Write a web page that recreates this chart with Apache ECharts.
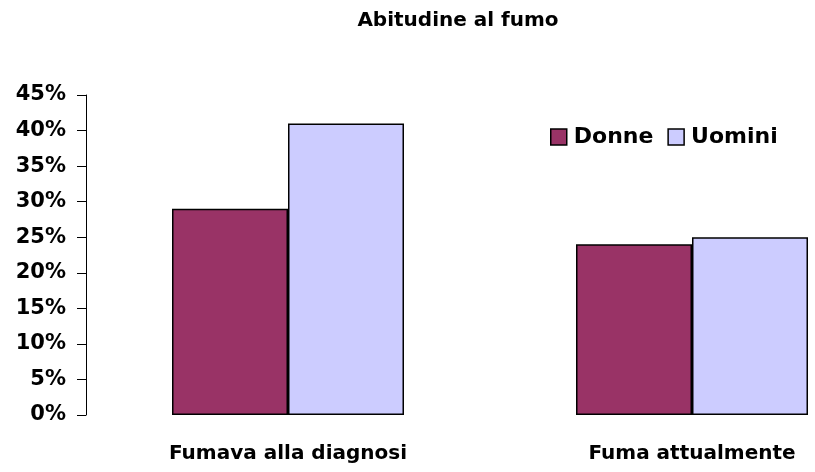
<!DOCTYPE html>
<html>
<head>
<meta charset="utf-8">
<script src="https://cdn.jsdelivr.net/npm/echarts@6/dist/echarts.min.js"></script>
<style>
  html, body { margin: 0; padding: 0; background: #fff; }
  #chart { width: 815px; height: 472px; }
</style>
</head>
<body>
<div id="chart"></div>
<script>
// dati
const categories = ['Fumava alla diagnosi', 'Fuma attualmente'];
const donne = [29, 24];
const uomini = [41, 25];
const yTicks = [0, 5, 10, 15, 20, 25, 30, 35, 40, 45];

const font = '"DejaVu Sans", Arial, sans-serif';
const chart = echarts.init(document.getElementById('chart'));

const option = {
  backgroundColor: '#ffffff',
  animation: false,
  title: {
    text: 'Abitudine al fumo',
    left: 453,
    top: 6,
    textAlign: 'center',
    textStyle: { fontFamily: font, fontWeight: 'bold', fontSize: 20, color: '#000' }
  },
  legend: {
    data: ['Donne', 'Uomini'],
    left: 545,
    top: 121,
    icon: 'rect',
    itemWidth: 16,
    itemHeight: 16,
    itemGap: 14,
    itemStyle: { borderColor: '#000', borderWidth: 1.5 },
    textStyle: { fontFamily: font, fontWeight: 'bold', fontSize: 22, color: '#000', padding: [0, 0, 0, 2] }
  },
  // il grafico originale è tagliato a destra: l'area del grafico esce dal bordo
  grid: { left: 86, top: 95, bottom: 57, width: 808, outerBoundsMode: 'none' },
  xAxis: {
    type: 'category',
    data: categories,
    axisLine: { show: false },
    axisTick: { show: false },
    axisLabel: { fontFamily: font, fontWeight: 'bold', fontSize: 20, color: '#000', margin: 29 }
  },
  yAxis: {
    type: 'value',
    min: yTicks[0],
    max: yTicks[yTicks.length - 1],
    interval: 5,
    axisLine: { show: true, lineStyle: { color: '#000', width: 1 } },
    axisTick: { show: true, inside: false, length: 9, lineStyle: { color: '#000' } },
    splitLine: { show: false },
    axisLabel: {
      fontFamily: font, fontWeight: 'bold', fontSize: 21, color: '#000', margin: 20,
      formatter: v => v + '%'
    }
  },
  series: [
    {
      name: 'Donne',
      type: 'bar',
      data: donne,
      barWidth: 116,
      barGap: '0%',
      itemStyle: { color: '#993366', borderColor: '#000', borderWidth: 1.5 }
    },
    {
      name: 'Uomini',
      type: 'bar',
      data: uomini,
      barWidth: 116,
      barGap: '0%',
      itemStyle: { color: '#ccccff', borderColor: '#000', borderWidth: 1.5 }
    }
  ]
};

chart.setOption(option);
</script>
</body>
</html>
